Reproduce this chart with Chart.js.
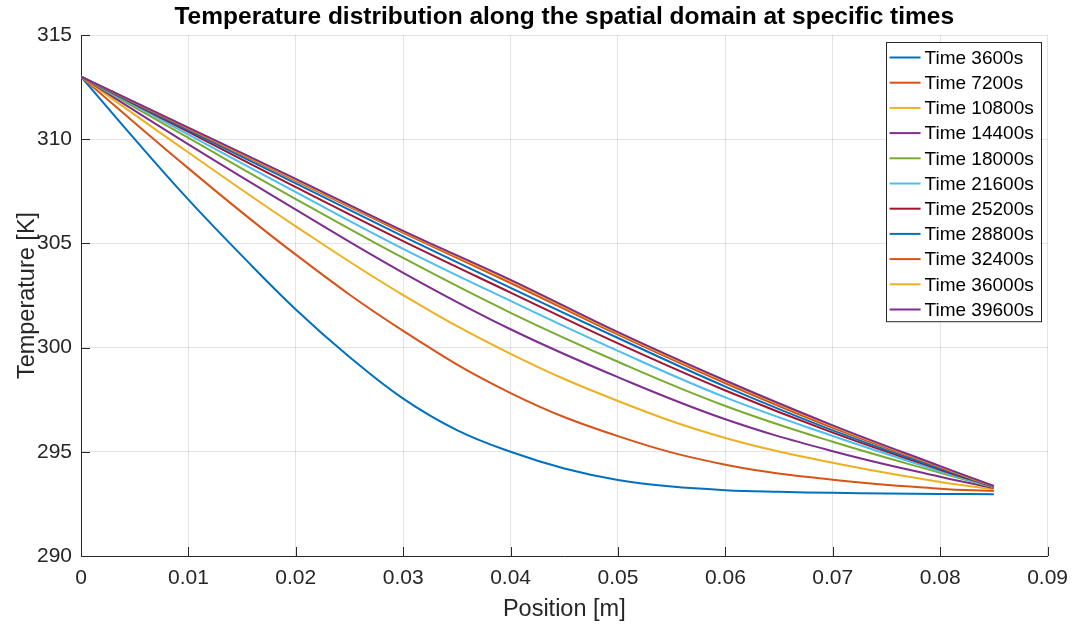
<!DOCTYPE html>
<html>
<head>
<meta charset="utf-8">
<script src="https://cdn.jsdelivr.net/npm/chart.js@4"></script>
<style>
  html, body { margin: 0; padding: 0; background: #fff; }
  #wrap { width: 1078px; height: 628px; }
</style>
</head>
<body>
<div id="wrap"><canvas id="tempChart" width="1078" height="628"></canvas></div>
<script>
// positions along the domain [m]
const positions = [0, 0.01, 0.02, 0.03, 0.04, 0.05, 0.06, 0.07, 0.08, 0.085];
// the first profile bends a lot, so it was read at more points
const positionsFine = [0, 0.005, 0.01, 0.015, 0.02, 0.025, 0.03, 0.035, 0.04, 0.045,
                       0.05, 0.055, 0.06, 0.065, 0.07, 0.075, 0.08, 0.085];

// temperature profiles [K], one array per time
const t3600  = [313, 310.00, 307.10, 304.40, 301.83, 299.55, 297.55, 296.04, 295.00, 294.20,
                293.65, 293.33, 293.16, 293.08, 293.03, 293.00, 292.98, 292.96];
const t7200  = [313, 308.60, 304.46, 300.80, 297.82, 295.75, 294.38, 293.66, 293.23, 293.12];
const t10800 = [313, 309.36, 305.82, 302.52, 299.70, 297.44, 295.66, 294.47, 293.55, 293.20];
const t14400 = [313, 309.75, 306.62, 303.59, 300.88, 298.58, 296.56, 295.03, 293.80, 293.26];
const t18000 = [313, 310.06, 307.13, 304.30, 301.67, 299.32, 297.20, 295.48, 293.99, 293.29];
const t21600 = [313, 310.22, 307.46, 304.74, 302.24, 299.84, 297.61, 295.76, 294.07, 293.31];
const t25200 = [313, 310.35, 307.70, 305.11, 302.64, 300.20, 297.94, 295.92, 294.14, 293.32];
const t28800 = [313, 310.42, 307.88, 305.34, 302.87, 300.46, 298.13, 296.03, 294.19, 293.33];
const t32400 = [313, 310.50, 308.00, 305.51, 303.10, 300.62, 298.29, 296.15, 294.25, 293.34];
const t36000 = [313, 310.54, 308.05, 305.57, 303.20, 300.70, 298.38, 296.23, 294.29, 293.35];
const t39600 = [313, 310.56, 308.10, 305.60, 303.25, 300.74, 298.42, 296.27, 294.31, 293.36];

const times = [3600, 7200, 10800, 14400, 18000, 21600, 25200, 28800, 32400, 36000, 39600];
const profiles = [t3600, t7200, t10800, t14400, t18000, t21600, t25200, t28800, t32400, t36000, t39600];

// matlab default line colours
const colors = ['#0072BD', '#D95319', '#EDB120', '#7E2F8E', '#77AC30', '#4DBEEE', '#A2142F'];

const FONT = '"Liberation Sans", Arial, Helvetica, sans-serif';
const AXIS_COLOR = '#262626';
const GRID_COLOR = 'rgba(38,38,38,0.13)';

const datasets = profiles.map((temps, i) => {
  const xs = temps.length === positionsFine.length ? positionsFine : positions;
  return {
    label: `Time ${times[i]}s`,
    data: temps.map((t, k) => ({ x: xs[k], y: t })),
    borderColor: colors[i % colors.length],
    backgroundColor: colors[i % colors.length],
    borderWidth: 2,
    pointRadius: 0,
    tension: 0.4,
    fill: false,
    order: -i // later times on top, like matlab
  };
});

// inward ticks on the left and bottom axes
const innerTicks = {
  id: 'innerTicks',
  afterDatasetsDraw(chart) {
    const { ctx, chartArea, scales } = chart;
    ctx.save();
    ctx.strokeStyle = AXIS_COLOR;
    ctx.lineWidth = 1;
    ctx.beginPath();
    scales.x.ticks.forEach(t => {
      const px = Math.round(scales.x.getPixelForValue(t.value)) + 0.5;
      ctx.moveTo(px, chartArea.bottom);
      ctx.lineTo(px, chartArea.bottom - 9);
    });
    scales.y.ticks.forEach(t => {
      const py = Math.round(scales.y.getPixelForValue(t.value)) + 0.5;
      ctx.moveTo(chartArea.left, py);
      ctx.lineTo(chartArea.left + 9, py);
    });
    ctx.stroke();
    ctx.restore();
  }
};

// legend box inside the plot, top right
const boxLegend = {
  id: 'boxLegend',
  afterDraw(chart) {
    const { ctx, chartArea } = chart;
    const sets = chart.data.datasets;
    const rowH = 25.2;
    const boxW = 155;
    const boxH = rowH * sets.length + 2;
    const x0 = chartArea.right - 7 - boxW;
    const y0 = chartArea.top + 7;
    ctx.save();
    ctx.fillStyle = '#fff';
    ctx.fillRect(x0, y0, boxW, boxH);
    ctx.strokeStyle = '#262626';
    ctx.lineWidth = 1;
    ctx.strokeRect(Math.round(x0) + 0.5, Math.round(y0) + 0.5, boxW, boxH);
    ctx.font = `19px ${FONT}`;
    ctx.textBaseline = 'middle';
    ctx.fillStyle = '#000';
    sets.forEach((ds, i) => {
      const cy = y0 + 15.5 + i * rowH;
      ctx.strokeStyle = ds.borderColor;
      ctx.lineWidth = 2;
      ctx.beginPath();
      ctx.moveTo(x0 + 4, cy);
      ctx.lineTo(x0 + 35, cy);
      ctx.stroke();
      ctx.fillText(ds.label, x0 + 39, cy + 1);
    });
    ctx.restore();
  }
};

new Chart(document.getElementById('tempChart'), {
  type: 'line',
  data: { datasets },
  options: {
    responsive: false,
    animation: false,
    devicePixelRatio: 1,
    layout: { padding: { left: 0, right: 30, top: 0, bottom: 0 } },
    plugins: {
      legend: { display: false },
      tooltip: { enabled: false },
      title: {
        display: true,
        fullSize: false, // centre over the plot area, not the canvas
        text: 'Temperature distribution along the spatial domain at specific times',
        color: '#000',
        font: { family: FONT, size: 24.5, weight: 'bold', lineHeight: 1.2 },
        padding: { top: 3, bottom: 2.6 }
      }
    },
    scales: {
      x: {
        type: 'linear',
        min: 0,
        max: 0.09,
        afterFit: s => { s.height = 72; },
        ticks: {
          stepSize: 0.01,
          color: AXIS_COLOR,
          padding: 10,
          maxRotation: 0,
          font: { family: FONT, size: 21 },
          callback: v => String(parseFloat(v.toFixed(2)))
        },
        grid: { color: GRID_COLOR, drawTicks: false },
        border: { display: true, color: AXIS_COLOR, width: 1 },
        title: {
          display: true,
          text: 'Position [m]',
          color: AXIS_COLOR,
          font: { family: FONT, size: 23.5 },
          padding: { top: 0, bottom: 4 }
        }
      },
      y: {
        min: 290,
        max: 315,
        afterFit: s => { s.width = 81; },
        ticks: {
          stepSize: 5,
          color: AXIS_COLOR,
          padding: 9,
          font: { family: FONT, size: 21 }
        },
        grid: { color: GRID_COLOR, drawTicks: false },
        border: { display: true, color: AXIS_COLOR, width: 1 },
        title: {
          display: true,
          text: 'Temperature [K]',
          color: AXIS_COLOR,
          font: { family: FONT, size: 23.5 },
          padding: { top: 13, bottom: 0 }
        }
      }
    }
  },
  plugins: [innerTicks, boxLegend]
});
</script>
</body>
</html>
